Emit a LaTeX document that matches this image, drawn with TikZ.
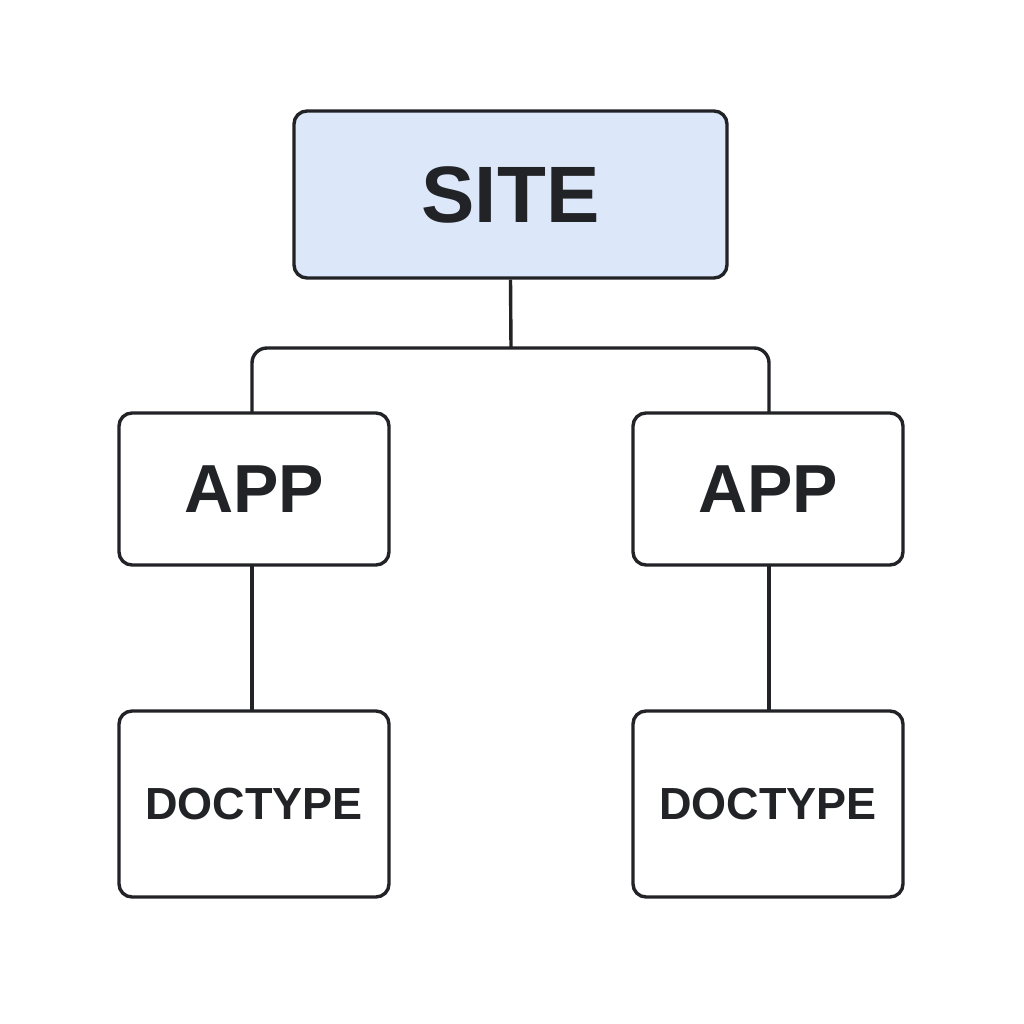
\documentclass[tikz,border=0pt]{standalone}
\usepackage{fontspec}
\setmainfont{Liberation Sans}
\definecolor{ink}{HTML}{222326}
\definecolor{sitefill}{HTML}{DCE8FA}
\begin{document}
\begin{tikzpicture}[x=1pt,y=-1pt,
  box/.style={draw=ink, line width=3.4pt, rounded corners=13pt, fill=white,
    inner sep=0pt, text=ink, font=\bfseries},
  conn/.style={draw=ink, line width=3.4pt, rounded corners=15pt}]
\fill[white] (0,0) rectangle (1024,1024);
\useasboundingbox (0,0) rectangle (1024,1024);
\node[box, fill=sitefill, minimum width=433pt, minimum height=167pt, font=\bfseries\fontsize{80}{80}\selectfont] (site) at (510.5,194.5) {SITE};
\node[box, minimum width=270pt, minimum height=152pt, font=\bfseries\fontsize{68}{68}\selectfont] (app1) at (254,489) {APP};
\node[box, minimum width=270pt, minimum height=152pt, font=\bfseries\fontsize{68}{68}\selectfont] (app2) at (768,489) {APP};
\node[box, minimum width=270pt, minimum height=186pt, font=\bfseries\fontsize{45}{45}\selectfont] (doc1) at (254,804) {DOCTYPE};
\node[box, minimum width=270pt, minimum height=186pt, font=\bfseries\fontsize{45}{45}\selectfont] (doc2) at (768,804) {DOCTYPE};
\coordinate (split) at (511,348);
\draw[conn, rounded corners=0pt] (site.south) -- (split);
\draw[conn] (split) -- (252,348) -- (252,413.5);
\draw[conn] (split) -- (769,348) -- (769,413.5);
\draw[conn, rounded corners=0pt] (252,565) -- (252,711);
\draw[conn, rounded corners=0pt] (769,565) -- (769,711);
\end{tikzpicture}
\end{document}
